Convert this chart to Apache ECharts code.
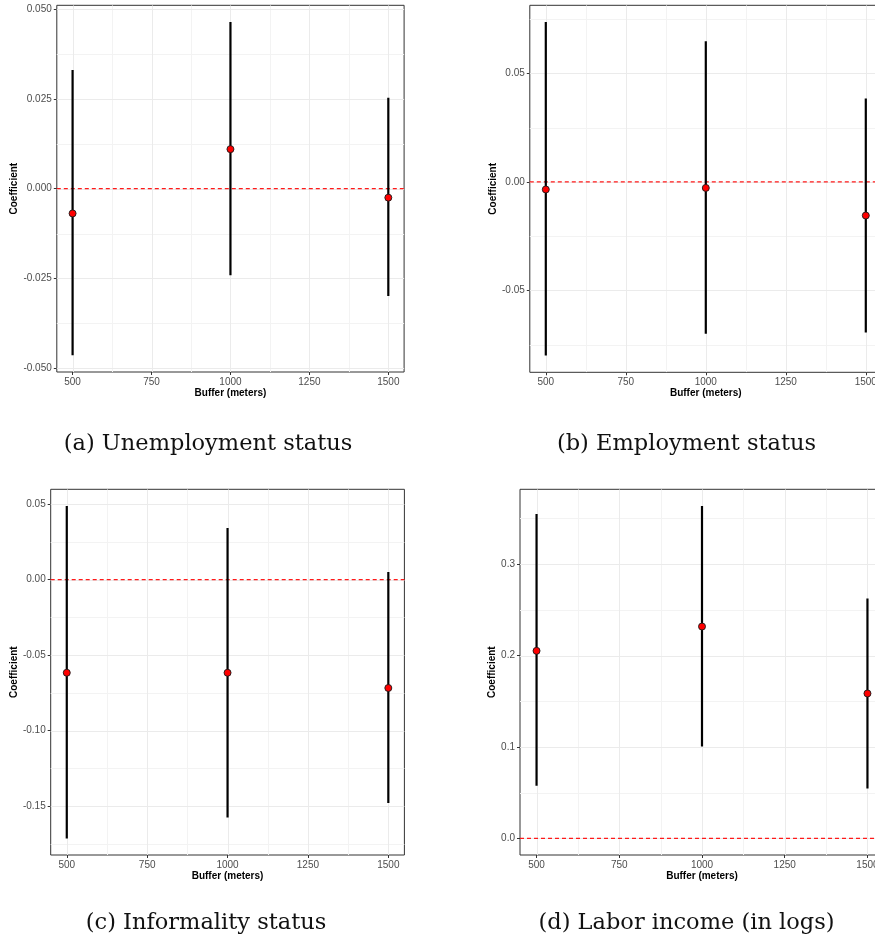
<!DOCTYPE html>
<html>
<head>
<meta charset="utf-8">
<script src="https://cdn.jsdelivr.net/npm/echarts@6/dist/echarts.min.js"></script>
<style>
  html, body { margin: 0; padding: 0; background: #ffffff; overflow: hidden; }
  #chart { width: 900px; height: 941px; }
</style>
</head>
<body>
<div id="chart"></div>
<script>
// ---------------- data ----------------
const buffers = [500, 1000, 1500];
const xTicks = [500, 750, 1000, 1250, 1500];
const xTickLabels = ['500', '750', '1000', '1250', '1500'];
const xMinor = [625, 875, 1125, 1375];

// (a) Unemployment status
const unempCoef = [-0.0069, 0.0110, -0.0025];
const unempLow  = [-0.0464, -0.0241, -0.0299];
const unempHigh = [0.0330, 0.0464, 0.0253];
const unempTicks = [-0.05, -0.025, 0, 0.025, 0.05];
const unempTickLabels = ['-0.050', '-0.025', '0.000', '0.025', '0.050'];
const unempMinor = [-0.0375, -0.0125, 0.0125, 0.0375];

// (b) Employment status
const empCoef = [-0.0035, -0.0028, -0.0155];
const empLow  = [-0.0800, -0.0699, -0.0694];
const empHigh = [0.0736, 0.0647, 0.0384];
const empTicks = [-0.05, 0, 0.05];
const empTickLabels = ['-0.05', '0.00', '0.05'];
const empMinor = [-0.075, -0.025, 0.025, 0.075];

// (c) Informality status
const infCoef = [-0.0617, -0.0617, -0.0718];
const infLow  = [-0.1715, -0.1576, -0.1481];
const infHigh = [0.0489, 0.0343, 0.0051];
const infTicks = [-0.15, -0.10, -0.05, 0, 0.05];
const infTickLabels = ['-0.15', '-0.10', '-0.05', '0.00', '0.05'];
const infMinor = [-0.175, -0.125, -0.075, -0.025, 0.025];

// (d) Labor income (in logs)
const incCoef = [0.2051, 0.2317, 0.1585];
const incLow  = [0.0576, 0.1005, 0.0546];
const incHigh = [0.3549, 0.3636, 0.2623];
const incTicks = [0, 0.1, 0.2, 0.3];
const incTickLabels = ['0.0', '0.1', '0.2', '0.3'];
const incMinor = [0.05, 0.15, 0.25, 0.35];

const captions = ['(a) Unemployment status', '(b) Employment status',
                  '(c) Informality status', '(d) Labor income (in logs)'];
const refLine = 0;

// ---------------- layout / style ----------------
const panels = [
  { coef: unempCoef, low: unempLow, high: unempHigh, ticks: unempTicks, labels: unempTickLabels, minor: unempMinor,
    grid: { left: 56.8, top: 5.3, width: 347.3, height: 366.7 }, yNameGap: 36 },
  { coef: empCoef, low: empLow, high: empHigh, ticks: empTicks, labels: empTickLabels, minor: empMinor,
    grid: { left: 529.8, top: 5.3, width: 352, height: 367 }, yNameGap: 30 },
  { coef: infCoef, low: infLow, high: infHigh, ticks: infTicks, labels: infTickLabels, minor: infMinor,
    grid: { left: 50.7, top: 489.3, width: 353.7, height: 365.7 }, yNameGap: 30 },
  { coef: incCoef, low: incLow, high: incHigh, ticks: incTicks, labels: incTickLabels, minor: incMinor,
    grid: { left: 520, top: 489.3, width: 364, height: 365.7 }, yNameGap: 21 }
];
const captionPos = [[208, 444], [686.5, 444], [206, 923], [686.5, 923]];

const sansFont = 'Liberation Sans, Arial, sans-serif';

function expand(lo, hi) {
  const r = hi - lo;
  return [lo - 0.05 * r, hi + 0.05 * r];
}
function labelFor(ticks, labels) {
  return function (v) {
    for (let i = 0; i < ticks.length; i++) {
      if (Math.abs(ticks[i] - v) < 1e-9) return labels[i];
    }
    return '';
  };
}

const xRange = expand(Math.min(...buffers), Math.max(...buffers));

const grids = [], xAxes = [], yAxes = [], series = [];

panels.forEach(function (p, i) {
  const yRange = expand(Math.min(...p.low, refLine), Math.max(...p.high, refLine));
  grids.push(Object.assign({
    show: true, borderColor: '#333333', borderWidth: 1, backgroundColor: '#ffffff', containLabel: false
  }, p.grid));

  xAxes.push({
    type: 'value', gridIndex: i, min: xRange[0], max: xRange[1],
    axisLine: { show: false, onZero: false },
    axisTick: { show: true, customValues: xTicks, length: 3, lineStyle: { color: '#333333', width: 1 } },
    axisLabel: { show: true, customValues: xTicks, formatter: labelFor(xTicks, xTickLabels),
                 color: '#4d4d4d', fontSize: 10, fontFamily: sansFont, margin: 5 },
    splitLine: { show: false },
    name: 'Buffer (meters)', nameLocation: 'middle', nameGap: 16,
    nameTextStyle: { color: '#000000', fontSize: 10, fontWeight: 'bold', fontFamily: sansFont }
  });

  yAxes.push({
    type: 'value', gridIndex: i, min: yRange[0], max: yRange[1],
    axisLine: { show: false, onZero: false },
    axisTick: { show: true, customValues: p.ticks, length: 3, lineStyle: { color: '#333333', width: 1 } },
    axisLabel: { show: true, customValues: p.ticks, formatter: labelFor(p.ticks, p.labels),
                 color: '#4d4d4d', fontSize: 10, fontFamily: sansFont, margin: 5 },
    splitLine: { show: false },
    name: 'Coefficient', nameLocation: 'middle', nameGap: p.yNameGap, nameRotate: 90,
    nameTextStyle: { color: '#000000', fontSize: 10, fontWeight: 'bold', fontFamily: sansFont }
  });

  // grid lines (kind: 0 major-h, 1 minor-h, 2 major-v, 3 minor-v)
  const gl = [];
  p.minor.forEach(v => gl.push([xTicks[0], v, 1]));
  xMinor.forEach(v => gl.push([v, p.ticks[0], 3]));
  p.ticks.forEach(v => gl.push([xTicks[0], v, 0]));
  xTicks.forEach(v => gl.push([v, p.ticks[0], 2]));

  series.push({
    type: 'custom', xAxisIndex: i, yAxisIndex: i, silent: true, z: 1, clip: true,
    data: gl,
    renderItem: function (params, api) {
      const cs = params.coordSys;
      const kind = api.value(2);
      const pt = api.coord([api.value(0), api.value(1)]);
      if (kind === 0 || kind === 1) {
        const y = Math.round(pt[1]) + 0.5;
        return {
          type: 'line', z2: kind === 0 ? 2 : 1,
          shape: { x1: cs.x, y1: y, x2: cs.x + cs.width, y2: y },
          style: { stroke: kind === 0 ? '#ebebeb' : '#f3f3f3', lineWidth: 1 }
        };
      }
      const x = Math.round(pt[0]) + 0.5;
      return {
        type: 'line', z2: kind === 2 ? 2 : 1,
        shape: { x1: x, y1: cs.y, x2: x, y2: cs.y + cs.height },
        style: { stroke: kind === 2 ? '#ebebeb' : '#f3f3f3', lineWidth: 1 }
      };
    }
  });

  // dashed reference line at zero
  series.push({
    type: 'custom', xAxisIndex: i, yAxisIndex: i, silent: true, z: 2, clip: true,
    data: [[xTicks[0], refLine]],
    renderItem: function (params, api) {
      const cs = params.coordSys;
      const pt = api.coord([api.value(0), api.value(1)]);
      return {
        type: 'line',
        shape: { x1: cs.x, y1: pt[1], x2: cs.x + cs.width, y2: pt[1] },
        style: { stroke: '#ff1a1a', lineWidth: 1.2, lineDash: [4, 3] }
      };
    }
  });

  // error bars
  series.push({
    type: 'custom', xAxisIndex: i, yAxisIndex: i, silent: true, z: 3, clip: true,
    data: buffers.map((b, k) => [b, p.low[k], p.high[k]]),
    encode: { x: 0, y: [1, 2] },
    renderItem: function (params, api) {
      const a = api.coord([api.value(0), api.value(1)]);
      const b = api.coord([api.value(0), api.value(2)]);
      return {
        type: 'line',
        shape: { x1: a[0], y1: a[1], x2: b[0], y2: b[1] },
        style: { stroke: '#000000', lineWidth: 2.2 }
      };
    }
  });

  // point estimates
  series.push({
    type: 'scatter', xAxisIndex: i, yAxisIndex: i, silent: true, z: 4,
    data: buffers.map((b, k) => [b, p.coef[k]]),
    symbol: 'circle', symbolSize: 7,
    itemStyle: { color: '#ff0000', borderColor: '#1a1a1a', borderWidth: 0.9, opacity: 1 }
  });
});

const graphics = captions.map((t, i) => ({
  type: 'text', x: captionPos[i][0], y: captionPos[i][1], silent: true,
  style: { text: t, fill: '#111111', font: '22.5px "DejaVu Serif", serif', align: 'center', verticalAlign: 'middle' }
}));

const chart = echarts.init(document.getElementById('chart'), null, { renderer: 'canvas', width: 900, height: 941 });
chart.setOption({
  animation: false,
  backgroundColor: '#ffffff',
  grid: grids,
  xAxis: xAxes,
  yAxis: yAxes,
  series: series,
  graphic: graphics
});
</script>
</body>
</html>
